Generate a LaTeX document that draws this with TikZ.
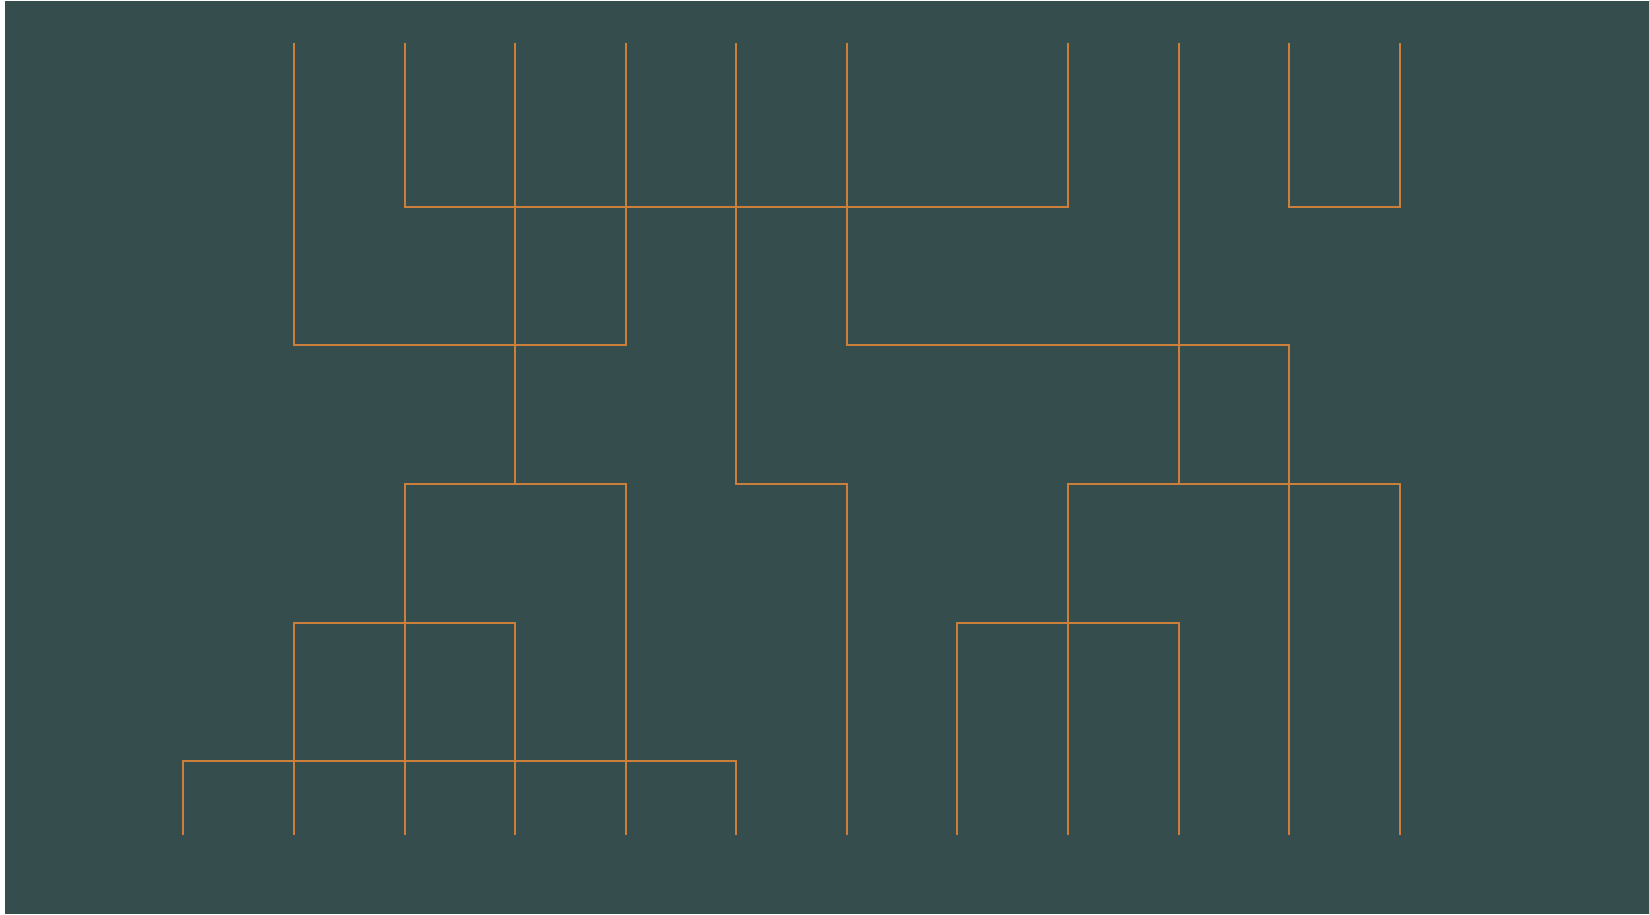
\documentclass[tikz,border=0pt]{standalone}
\definecolor{slatebg}{RGB}{53,77,76}
\definecolor{wireorange}{RGB}{204,127,58}
\usepackage{tikz}

\begin{document}
\begin{tikzpicture}[x=0.01cm, y=-0.01cm, wire/.style={draw=wireorange, line width=0.45pt}]
    \fill[white] (0,0) rectangle (1649,914);
    \fill[slatebg] (5,1) rectangle (1649,914);
    % upper branches
    \draw[wire] (294,43) -- (294,345) -- (626,345) -- (626,43);
    \draw[wire] (405,43) -- (405,207) -- (1068,207) -- (1068,43);
    \draw[wire] (515,43) -- (515,484);
    \draw[wire] (736,43) -- (736,484) -- (847,484) -- (847,835);
    \draw[wire] (847,43) -- (847,345) -- (1289,345) -- (1289,835);
    \draw[wire] (1179,43) -- (1179,484);
    \draw[wire] (1289,43) -- (1289,207) -- (1400,207) -- (1400,43);
    % lower branches
    \draw[wire] (405,835) -- (405,484) -- (626,484) -- (626,835);
    \draw[wire] (1068,835) -- (1068,484) -- (1400,484) -- (1400,835);
    \draw[wire] (294,835) -- (294,623) -- (515,623) -- (515,835);
    \draw[wire] (957,835) -- (957,623) -- (1179,623) -- (1179,835);
    \draw[wire] (183,835) -- (183,761) -- (736,761) -- (736,835);
\end{tikzpicture}
\end{document}
